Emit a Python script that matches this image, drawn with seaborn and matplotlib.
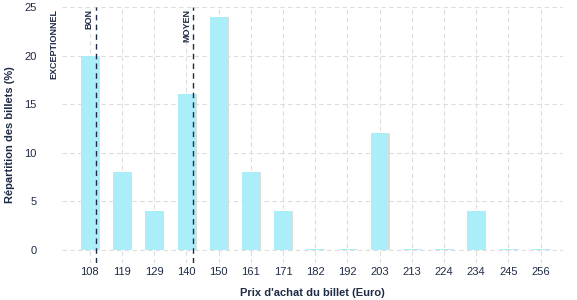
import pandas as pd
import matplotlib
matplotlib.use('Agg')
import matplotlib.pyplot as plt
import matplotlib.patheffects as pe
import seaborn as sns

# Prix d'achat (Euro) et répartition des billets (%)
prix = ['108', '119', '129', '140', '150', '161', '171', '182', '192',
        '203', '213', '224', '234', '245', '256']
repartition = [20, 8, 4, 16, 24, 8, 4, 0.15, 0.15, 12, 0.15, 0.15, 4, 0.15, 0.15]

# seuils (position en index de catégorie) et libellés
seuils = [-0.88, 0.19, 3.22]
seuil_labels = ['EXCEPTIONNEL', 'BON', 'MOYEN']
seuil_lignes = [False, True, True]

df = pd.DataFrame({'prix': prix, 'repartition': repartition})

sns.set_style('whitegrid', {'grid.linestyle': (0, (4, 3)), 'grid.color': '#dddddd'})
plt.rcParams['font.family'] = ['Liberation Sans', 'DejaVu Sans']
navy = '#1e2b45'

fig = plt.figure(figsize=(5.77, 3.0), dpi=100)
ax = fig.add_axes([0.107, 0.123, 0.869, 0.854])

sns.barplot(data=df, x='prix', y='repartition', color='#aaeef9', saturation=1,
            width=0.55, linewidth=0, edgecolor='none', ax=ax, zorder=2)
for p in ax.patches:
    p.set_path_effects([pe.SimplePatchShadow(offset=(1.0, 0), shadow_rgbFace='#dcdcdc', alpha=1),
                        pe.Normal()])

for x, lab, ligne in zip(seuils, seuil_labels, seuil_lignes):
    if ligne:
        ax.axvline(x, color=navy, ls=(0, (4, 3)), lw=1, zorder=3)
    ax.text(x - 0.08, 24.8, lab, rotation=90, ha='right', va='top', fontsize=6.5,
            color=navy, fontweight='bold', clip_on=False)

ax.set_xlim(-0.87, 14.7)
ax.set_ylim(-1.35, 25)
ax.set_yticks([0, 5, 10, 15, 20, 25])
ax.tick_params(axis='both', colors=navy, labelsize=8, length=0)
ax.tick_params(axis='x', pad=3)
ax.tick_params(axis='y', pad=18)
ax.set_xlabel("Prix d'achat du billet (Euro)", fontsize=8, fontweight='bold', color=navy, labelpad=8)
ax.set_ylabel('Répartition des billets (%)', fontsize=8, fontweight='bold', color=navy, labelpad=7)
sns.despine(left=True, bottom=True)
ax.grid(True, axis='both', zorder=0)
ax.set_axisbelow(True)

fig.savefig('out.png', dpi=100)
